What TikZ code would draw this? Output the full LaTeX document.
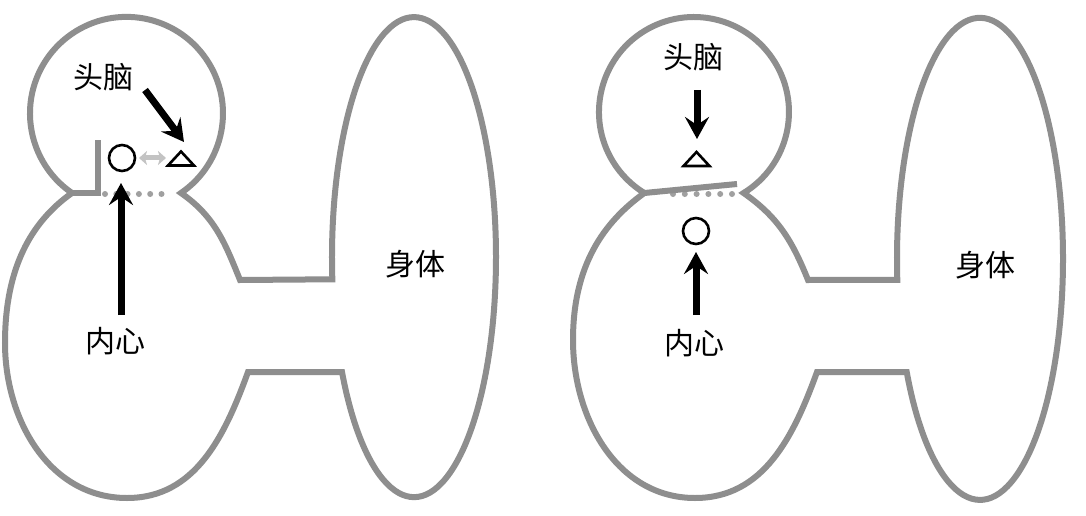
\documentclass[tikz,border=0pt]{standalone}
\usepackage{fontspec}
\newfontfamily\cjk{Noto Sans CJK SC}
\usetikzlibrary{arrows.meta}
\definecolor{outgray}{RGB}{142,142,142}
\definecolor{dotgray}{RGB}{160,160,160}
\definecolor{palegray}{RGB}{195,195,195}
\begin{document}
\begin{tikzpicture}[x=1pt,y=1pt,
  outline/.style={draw=outgray, line width=6pt},
  dotline/.style={draw=dotgray, line width=6pt, line cap=round, dash pattern=on 0pt off #1},
  bigarrow/.style={draw=black, line width=7pt, -{Stealth[length=22pt,width=24pt,inset=8pt]}},
  twoway/.style={draw=palegray, line width=5pt, {Stealth[length=8pt,width=14pt,inset=2pt]}-{Stealth[length=8pt,width=14pt,inset=2pt]}},
  ring/.style={draw=black, circle, line width=2.6pt, minimum size=26pt, inner sep=0pt},
  tri/.style={draw=black, line width=2.6pt, line join=miter},
  lbl/.style={font=\cjk\fontsize{30}{30}\selectfont, inner sep=0pt}]
\useasboundingbox (0,0) rectangle (1086,515);
\fill[white] (0,0) rectangle (1086,515);

% ---------- left figure ----------
\coordinate (T1a) at (240,235);
\coordinate (R1a) at (181,322);
\draw[outline] (T1a) to[out=112,in=-35] (R1a)
  arc[start angle=-55.6,end angle=235.6,radius=96.5] coordinate (L1a)
  .. controls (31,293) and (5,247) .. (5,172)
  to[out=270,in=180] (127,17) to[out=0,in=250] (248,143)
  -- (342,143) arc[start angle=208.6,end angle=545.3,x radius=82,y radius=240] -- cycle;
\coordinate (Na) at (98,322);
\coordinate (Nta) at (98,375);
\draw[outline] (L1a) -- (Na) -- (Nta);
\coordinate (Da) at (105,321);
\coordinate (Db) at (161.5,321);
\draw[dotline=11.3pt] (Da) -- (Db);

\node[ring] (cA) at (122,357) {};
\coordinate (tA) at (181,349.5);
\draw[tri] ([xshift=-13pt]tA) -- ([xshift=13pt]tA) -- ([yshift=14pt]tA) -- cycle;
\coordinate (twA) at (139,357);
\coordinate (twB) at (166,357);
\draw[twoway] (twA) -- (twB);

\node[lbl] (headA) at (103,438) {头脑};
\node[lbl] (heartA) at (115,174) {内心};
\node[lbl] (bodyA) at (415,251) {身体};

\coordinate (a1s) at (145,425);
\coordinate (a1e) at (184,373);
\draw[bigarrow] (a1s) -- (a1e);
\coordinate (a2s) at (121,200);
\coordinate (a2e) at (121,332);
\draw[bigarrow] (a2s) -- (a2e);

% ---------- right figure ----------
\coordinate (T1b) at (808,235);
\coordinate (R1b) at (743.6,322);
\draw[outline] (T1b) to[out=112,in=-35] (R1b)
  arc[start angle=-58.5,end angle=238.5,radius=95] coordinate (L1b)
  .. controls (604,293) and (573,250) .. (573,175)
  to[out=270,in=180] (695,17) to[out=0,in=250] (817,143)
  -- (906.7,143) arc[start angle=208,end angle=545,x radius=83,y radius=241] -- cycle;
\coordinate (Db1) at (673,321);
\coordinate (Db2) at (732,321);
\draw[dotline=11.8pt] (Db1) -- (Db2);
\coordinate (Sb) at (737,331);
\draw[outline] (L1b) -- (Sb);

\node[ring] (cB) at (696,284) {};
\coordinate (tB) at (696.5,349);
\draw[tri] ([xshift=-13pt]tB) -- ([xshift=13pt]tB) -- ([yshift=14pt]tB) -- cycle;

\node[lbl] (headB) at (693,458) {头脑};
\node[lbl] (heartB) at (694,172) {内心};
\node[lbl] (bodyB) at (985,250) {身体};

\coordinate (b1s) at (697,425);
\coordinate (b1e) at (697,376);
\draw[bigarrow] (b1s) -- (b1e);
\coordinate (b2s) at (696,200);
\coordinate (b2e) at (696,263);
\draw[bigarrow] (b2s) -- (b2e);
\end{tikzpicture}
\end{document}
